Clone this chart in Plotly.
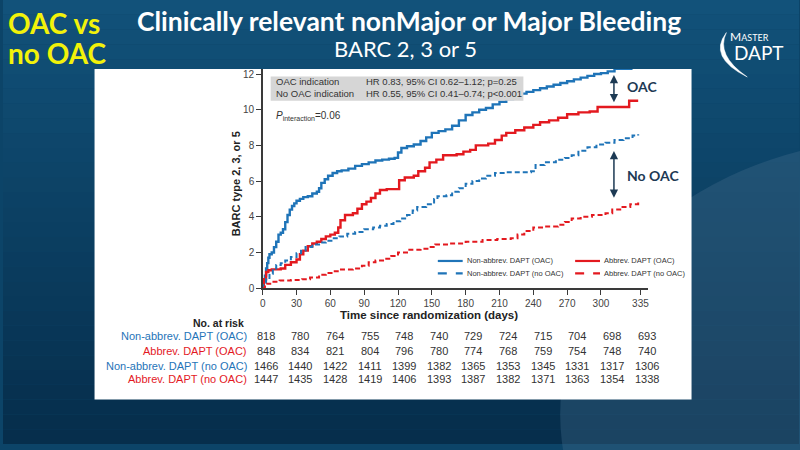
import plotly.graph_objects as go

W, H = 800, 450
def px(x): return x / W
def py(y): return 1 - y / H

# ---------------- data ----------------
nab_oac_days = [0, 1, 2, 3, 4, 5, 6, 8, 10, 12, 14, 16, 18, 20, 22, 24, 26, 28, 30, 33, 36, 40, 44, 48, 50, 52,
                55, 58, 62, 66, 70, 76, 82, 88, 94, 100, 106, 112, 117, 120, 123, 128, 134, 140, 145, 150, 156,
                162, 168, 174, 180, 186, 192, 198, 204, 210, 216, 222, 228, 234, 240, 246, 252, 258, 264, 270,
                276, 282, 288, 294, 300, 306, 312, 320, 328]
nab_oac_vals = [0, 0.4, 0.7, 1.1, 1.4, 1.7, 1.9, 2.0, 2.3, 2.6, 3.0, 3.1, 3.3, 3.7, 4.1, 4.4, 4.6, 4.75, 4.9, 5.0,
                5.1, 5.15, 5.3, 5.4, 5.6, 5.9, 6.1, 6.3, 6.45, 6.55, 6.6, 6.7, 6.85, 6.95, 7.05, 7.15, 7.2, 7.25,
                7.3, 7.6, 7.85, 7.95, 8.05, 8.25, 8.45, 8.7, 8.8, 8.9, 9.1, 9.4, 9.7, 9.85, 10.0, 10.1, 10.3,
                10.45, 10.6, 10.75, 10.9, 11.0, 11.1, 11.2, 11.3, 11.4, 11.5, 11.6, 11.7, 11.8, 11.9, 12.0,
                12.05, 12.15, 12.3, 12.3, 12.3]

ab_oac_days = [0, 1, 3, 5, 8, 16, 20, 25, 30, 33, 36, 40, 44, 48, 52, 56, 60, 64, 67, 69, 73, 80, 84, 88, 92, 96,
               100, 104, 110, 118, 121, 126, 134, 138, 144, 148, 154, 160, 172, 178, 184, 189, 200, 206, 212,
               216, 224, 232, 240, 246, 254, 262, 270, 280, 290, 297, 322, 325, 333]
ab_oac_vals = [0, 0.5, 0.9, 1.0, 1.05, 1.1, 1.3, 1.45, 1.6, 1.9, 2.1, 2.35, 2.5, 2.6, 2.75, 2.9, 3.0, 3.1, 3.4,
               3.8, 4.1, 4.2, 4.45, 4.7, 4.85, 5.05, 5.3, 5.5, 5.55, 5.55, 6.05, 6.2, 6.3, 6.55, 6.75, 7.05, 7.2,
               7.45, 7.5, 7.65, 7.75, 8.0, 8.1, 8.3, 8.55, 8.7, 8.85, 9.0, 9.15, 9.3, 9.4, 9.55, 9.75, 9.85, 9.9,
               10.15, 10.15, 10.5, 10.5]

nab_nooac_days = [0, 1, 3, 6, 9, 12, 16, 20, 25, 30, 34, 38, 44, 50, 56, 62, 68, 75, 82, 90, 98, 104, 110, 116,
                  122, 128, 133, 137, 145, 152, 155, 163, 168, 174, 180, 186, 192, 198, 206, 215, 238, 242, 250,
                  260, 268, 274, 280, 288, 296, 304, 312, 320, 328, 333]
nab_nooac_vals = [0, 0.3, 0.5, 0.8, 1.1, 1.3, 1.4, 1.55, 1.75, 1.95, 2.1, 2.3, 2.45, 2.55, 2.65, 2.8, 2.9, 3.05,
                  3.15, 3.3, 3.4, 3.5, 3.6, 3.75, 3.9, 4.1, 4.35, 4.55, 4.7, 5.0, 5.15, 5.2, 5.4, 5.6, 5.85, 6.0,
                  6.15, 6.3, 6.45, 6.5, 6.55, 6.9, 7.05, 7.2, 7.3, 7.45, 7.7, 7.9, 8.05, 8.15, 8.3, 8.4, 8.55, 8.62]

ab_nooac_days = [0, 2, 4, 8, 15, 25, 35, 42, 50, 56, 62, 68, 80, 88, 94, 100, 108, 114, 120, 128, 140, 148, 153,
                 165, 180, 195, 208, 220, 226, 232, 240, 250, 262, 268, 274, 282, 292, 304, 310, 318, 326, 333]
ab_nooac_vals = [0, 0.15, 0.25, 0.35, 0.42, 0.45, 0.5, 0.6, 0.75, 0.85, 0.95, 1.05, 1.1, 1.25, 1.45, 1.55, 1.65,
                 1.8, 2.0, 2.15, 2.2, 2.3, 2.45, 2.5, 2.6, 2.7, 2.75, 2.8, 3.0, 3.2, 3.4, 3.45, 3.55, 3.7, 3.9,
                 4.0, 4.1, 4.2, 4.4, 4.55, 4.7, 4.9]

x_ticks = [0, 30, 60, 90, 120, 150, 180, 210, 240, 270, 300, 335]
y_ticks = [0, 2, 4, 6, 8, 10, 12]

series_names = ["Non-abbrev. DAPT (OAC)", "Abbrev. DAPT (OAC)",
                "Non-abbrev. DAPT (no OAC)", "Abbrev. DAPT (no OAC)"]
risk_nab_oac = [818, 780, 764, 755, 748, 740, 729, 724, 715, 704, 698, 693]
risk_ab_oac = [848, 834, 821, 804, 796, 780, 774, 768, 759, 754, 748, 740]
risk_nab_nooac = [1466, 1440, 1422, 1411, 1399, 1382, 1365, 1353, 1345, 1331, 1317, 1306]
risk_ab_nooac = [1447, 1435, 1428, 1419, 1406, 1393, 1387, 1382, 1371, 1363, 1354, 1338]

hr_labels = ["OAC indication", "No OAC indication"]
hr_texts = ["HR 0.83, 95% CI 0.62\u20131.12; p=0.25", "HR 0.55, 95% CI 0.41\u20130.74; p<0.001"]

# ---------------- styles ----------------
BLUE = "#1f74b8"
RED = "#e3191f"
DARK = "#3a3a3a"
NAVY = "#1d3a54"
CHART_FONT = "Liberation Sans, Arial, sans-serif"
SLIDE_FONT = "Lato, Open Sans, sans-serif"

fig = go.Figure()
styles = [
    (nab_oac_days, nab_oac_vals, BLUE, "solid", 2.4),
    (ab_oac_days, ab_oac_vals, RED, "solid", 2.4),
    (nab_nooac_days, nab_nooac_vals, BLUE, "5px,3px", 2.0),
    (ab_nooac_days, ab_nooac_vals, RED, "5px,3px", 2.0),
]
for (d, v, c, dash, w), name in zip(styles, series_names):
    fig.add_trace(go.Scatter(x=d, y=v, mode="lines", name=name,
                             line=dict(color=c, dash=dash, width=w, shape="hv"),
                             showlegend=False, hoverinfo="skip"))

x0_px, x1_px = 261, 648
y0_px, y1_px = 292, 70
xmax = 341.5
ymax = (y0_px - y1_px) / 18.08

fig.update_layout(
    width=W, height=H, margin=dict(l=0, r=0, t=0, b=0),
    paper_bgcolor="#0c4468", plot_bgcolor="white",
    xaxis=dict(domain=[px(x0_px), px(x1_px)], range=[0, xmax], tickvals=x_ticks,
               ticks="outside", ticklen=5, tickcolor=DARK, tickwidth=1,
               showline=True, linecolor=DARK, linewidth=1.5, showgrid=False, zeroline=False,
               tickfont=dict(family=CHART_FONT, size=10, color="#444")),
    yaxis=dict(domain=[py(y0_px), py(y1_px)], range=[0, ymax], tickvals=y_ticks,
               ticks="outside", ticklen=5, tickcolor=DARK, tickwidth=1,
               showline=True, linecolor=DARK, linewidth=1.5, showgrid=False, zeroline=False,
               tickfont=dict(family=CHART_FONT, size=10, color="#444")),
)

shapes = []
# slide background gradient
top_c = (18, 82, 122)
bot_c = (6, 46, 76)
n = 30
for i in range(n):
    t = i / (n - 1)
    c = tuple(int(top_c[k] + (bot_c[k] - top_c[k]) * t) for k in range(3))
    shapes.append(dict(type="rect", xref="paper", yref="paper", x0=0, x1=1,
                       y0=py(H * (i + 1) / n), y1=py(H * i / n), fillcolor="rgb(%d,%d,%d)" % c,
                       line=dict(width=0), layer="below"))
shapes.append(dict(type="circle", xref="paper", yref="paper", x0=px(560), x1=px(1250), y0=py(700), y1=py(140),
                   fillcolor="rgba(70,110,140,0.35)", line=dict(width=0), layer="below"))
# white panel
shapes.append(dict(type="rect", xref="paper", yref="paper", x0=px(92), x1=px(692), y0=py(405), y1=py(70),
                   fillcolor="white", line=dict(width=0), layer="below"))
# HR box
shapes.append(dict(type="rect", xref="paper", yref="paper", x0=px(269), x1=px(523), y0=py(102), y1=py(77.5),
                   fillcolor="#d6d6d6", line=dict(width=0), layer="above"))
# legend keys
leg_rows = [264.5, 277]
leg_cols = [(437, 462), (575, 600)]
leg_styles = [(BLUE, "solid", 0, 0), (RED, "solid", 0, 1), (BLUE, "dash", 1, 0), (RED, "dash", 1, 1)]
for (c, dsh, r, col) in leg_styles:
    shapes.append(dict(type="line", xref="paper", yref="paper",
                       x0=px(leg_cols[col][0]), x1=px(leg_cols[col][1]),
                       y0=py(leg_rows[r]), y1=py(leg_rows[r]),
                       line=dict(color=c, width=2.2, dash=dsh), layer="above"))
# logo swoosh
sw = "M {a} {b} Q {c} {d} {e} {f} Q {g} {h} {a} {b} Z".format(
    a=px(727), b=py(33), c=px(708), d=py(58), e=px(748), f=py(78), g=px(716), h=py(56))
shapes.append(dict(type="path", xref="paper", yref="paper", path=sw,
                   fillcolor="white", line=dict(color="white", width=0.5), layer="above"))
fig.update_layout(shapes=shapes)

ann = []
def text(x, y, s, size, color, family=CHART_FONT, xanchor="left", bold=False, **kw):
    if bold:
        s = "<b>" + s + "</b>"
    ann.append(dict(x=px(x), y=py(y), xref="paper", yref="paper", text=s, showarrow=False,
                    xanchor=xanchor, yanchor="middle", font=dict(family=family, size=size, color=color), **kw))

# slide titles
text(3, 23, "OAC vs", 28, "#f2f20a", SLIDE_FONT, bold=True)
text(3, 54, "no OAC", 28, "#f2f20a", SLIDE_FONT, bold=True)
text(408, 21, "Clinically relevant nonMajor or Major Bleeding", 26.5, "white", SLIDE_FONT, "center", bold=True)
text(405, 49, "BARC 2, 3 or 5", 22, "white", SLIDE_FONT, "center")
# logo text
text(729, 37, "M<span style='font-size:9px'>ASTER</span>", 12, "white", SLIDE_FONT)
text(733, 53, "DAPT", 19, "white", SLIDE_FONT)

# HR box text
for i, (lab, t) in enumerate(zip(hr_labels, hr_texts)):
    text(272, 83 + 12 * i, lab, 9.5, "#333")
    text(363, 83 + 12 * i, t, 9.5, "#333")
text(272, 118, "<i>P</i><sub>interaction</sub>=0.06", 10, "#333")

# legend texts
for (c, dsh, r, col), name in zip(leg_styles, series_names):
    text(leg_cols[col][1] + 2, leg_rows[r], name, 7.5, "#333")

# axis titles
text(234, 186, "<b>BARC type 2, 3, or 5</b>", 11, "#222", xanchor="center", textangle=-90)
text(428, 319, "<b>Time since randomization (days)</b>", 11.5, "#222", xanchor="center")

# arrows between curves
for (ya, yb) in [(11.95, 10.34), (7.69, 4.98)]:
    ann.append(dict(x=311.5, y=ya, ax=311.5, ay=yb, xref="x", yref="y", axref="x", ayref="y",
                    text="", showarrow=True, arrowhead=2, arrowside="end+start", arrowsize=1.1,
                    arrowwidth=1.5, arrowcolor=NAVY))
text(625, 88, "OAC", 14, NAVY, SLIDE_FONT, bold=True)
text(625, 178, "No OAC", 14, NAVY, SLIDE_FONT, bold=True)

# risk table
text(244, 327, "<b>No. at risk</b>", 10.5, "#222", xanchor="right")
risk_rows = [risk_nab_oac, risk_ab_oac, risk_nab_nooac, risk_ab_nooac]
row_colors = [BLUE, RED, BLUE, RED]
row_y = [341, 356, 370.5, 384.5]
for name, vals, col, yy in zip(series_names, risk_rows, row_colors, row_y):
    text(247, yy, name, 11, col, xanchor="right")
    for i, v in enumerate(vals):
        text(264 + 34.8 * i, yy, str(v), 11, "#333", xanchor="center")

fig.update_layout(annotations=ann)
fig.write_html("out.html", config={"displayModeBar": False, "staticPlot": True},
               post_script="document.body.style.margin='0';document.body.style.overflow='hidden';")
